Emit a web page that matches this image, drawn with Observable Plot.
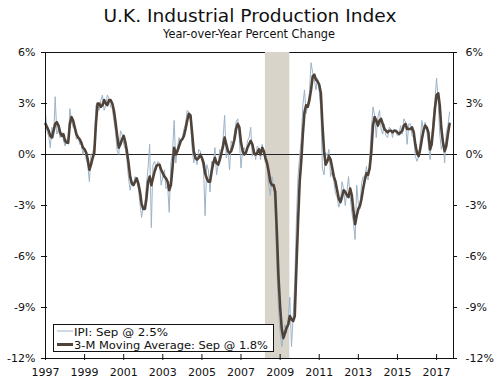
<!DOCTYPE html>
<html><head><meta charset="utf-8">
<script src="https://cdn.jsdelivr.net/npm/d3@7"></script>
<script src="https://cdn.jsdelivr.net/npm/@observablehq/plot@0.6"></script>
<style>
body{margin:0;background:#fff;font-family:"DejaVu Sans",sans-serif;}
#wrap{position:relative;width:500px;height:381px;overflow:hidden;background:#fff;}
#chart{position:absolute;top:42px;left:0;}
#overlay{position:absolute;top:0;left:0;pointer-events:none;}
</style></head><body>
<div id="wrap"><div id="chart"></div>
<svg id="overlay" width="500" height="381" font-family="DejaVu Sans, sans-serif" fill="#111">
  <text id="title" x="250" y="22" text-anchor="middle" font-size="18.5" textLength="293" lengthAdjust="spacingAndGlyphs">U.K. Industrial Production Index</text>
  <text id="subtitle" x="249" y="37.5" text-anchor="middle" font-size="11.5" textLength="172" lengthAdjust="spacingAndGlyphs">Year-over-Year Percent Change</text>
  <g id="legend"></g>
</svg>
</div>
<script>
const startYear = 1997;
const ipi = [
  2.4,1.3,1.1,0.4,1.6,1.0,3.4,1.2,1.5,1.0,1.3,0.9,
  0.5,0.9,0.6,2.7,2.0,1.6,1.5,0.9,1.1,0.6,0.6,0.0,
  0.4,-0.3,-0.6,-1.6,0.0,0.1,0.5,2.9,3.0,2.6,3.2,3.5,
  2.6,2.9,3.5,3.3,2.8,2.7,2.0,1.3,0.2,0.0,1.4,1.2,
  0.6,0.3,-0.3,-1.4,-2.1,-1.6,-1.8,-1.3,-1.6,-2.0,-2.9,-3.7,
  -3.1,-2.9,-1.8,-0.8,0.6,-4.3,-0.6,-0.4,-0.9,-0.4,-0.5,-1.8,
  -1.3,-0.9,-2.0,-1.8,-3.4,-0.5,0.1,2.0,-0.5,0.4,1.0,0.6,
  1.0,1.5,1.8,2.6,2.5,2.0,0.4,-0.5,0.0,-0.6,0.3,0.2,
  -0.4,-0.9,-3.6,-0.6,-0.9,-2.2,-0.4,-0.6,0.4,-1.2,-0.6,0.3,
  0.2,1.0,2.3,-0.2,0.4,-0.9,0.8,0.5,1.3,1.9,2.1,0.9,
  -0.8,0.3,0.4,0.0,0.8,1.0,1.6,-0.1,0.3,-0.3,0.5,0.4,
  -0.3,0.6,0.1,-0.5,-0.6,-1.8,-2.4,-1.3,-1.8,-3.5,-6.8,-9.2,
  -10.5,-11.3,-10.6,-10.0,-10.5,-9.6,-8.4,-11.3,-9.5,-7.5,-3.8,-1.3,
  -0.1,1.0,2.9,3.8,2.4,2.9,3.6,5.4,4.8,4.4,3.8,4.5,
  3.7,2.6,-0.8,-1.2,0.1,-0.1,0.3,-1.3,-1.0,-1.6,-2.3,-2.5,
  -3.1,-2.8,-1.6,-2.0,-3.0,-2.2,-1.3,-2.5,-3.4,-4.0,-5.0,-1.8,
  -2.9,-3.2,-1.7,-1.3,-1.4,-0.7,-1.5,-0.2,1.5,2.8,2.3,1.0,
  2.2,2.6,1.5,1.2,1.8,1.1,1.0,1.6,1.5,1.0,1.5,1.3,
  1.1,1.2,1.7,1.2,2.1,1.9,0.6,1.8,1.8,1.1,1.0,-0.1,
  -0.4,-0.1,0.8,2.0,1.4,1.9,1.4,0.6,-0.3,1.0,2.2,3.2,
  4.5,3.1,1.2,0.3,0.7,-0.5,1.3,1.7,2.5
];
const movingAvg = [
  1.8,1.6,1.4,1.1,1.0,1.4,1.8,1.9,1.7,1.3,1.1,1.2,
  0.8,0.7,0.7,1.8,2.2,2.0,1.6,1.2,1.0,0.9,0.7,0.4,
  0.3,0.1,-0.3,-0.9,-0.6,-0.2,0.1,1.8,3.0,3.0,2.8,2.9,
  3.2,3.0,2.9,3.2,3.2,3.0,2.6,1.9,1.1,0.4,0.6,0.9,
  1.1,0.7,0.2,-0.5,-1.3,-1.7,-1.8,-1.6,-1.4,-1.7,-2.2,-2.9,
  -3.2,-3.2,-2.6,-1.6,-1.3,-1.8,-1.4,-1.0,-0.7,-0.6,-0.6,-0.9,
  -1.1,-1.3,-1.4,-1.6,-2.1,-1.8,-0.8,0.4,0.0,0.2,0.5,0.8,
  0.9,1.1,1.5,2.0,2.4,2.3,1.3,0.2,-0.2,-0.3,-0.2,0.0,
  -0.2,-0.5,-1.1,-1.4,-1.6,-1.6,-1.0,-0.5,-0.2,-0.5,-0.6,-0.3,
  0.1,0.5,1.0,0.6,0.2,0.1,0.2,0.5,0.9,1.5,1.8,1.6,
  0.7,0.2,0.0,0.1,0.4,0.6,0.8,0.6,0.1,0.0,0.1,0.3,
  0.0,0.4,0.2,-0.2,-0.5,-1.0,-1.6,-1.8,-1.8,-2.2,-4.6,-7.2,
  -9.0,-10.3,-10.8,-10.5,-10.2,-10.0,-9.5,-9.7,-9.8,-9.5,-6.6,-4.0,
  -1.6,-0.3,1.2,2.5,2.9,2.8,3.2,3.8,4.6,4.7,4.4,4.3,
  4.1,3.6,1.8,0.2,-0.6,-0.4,-0.1,-0.3,-0.8,-1.3,-1.6,-2.1,
  -2.6,-2.8,-2.5,-2.1,-2.2,-2.4,-2.5,-2.0,-2.4,-3.3,-4.1,-3.6,
  -3.2,-3.0,-2.6,-2.0,-1.5,-1.1,-1.2,-0.8,0.2,1.7,2.2,2.0,
  1.7,2.0,2.1,1.8,1.5,1.4,1.3,1.4,1.4,1.3,1.4,1.4,
  1.3,1.2,1.3,1.4,1.7,1.8,1.5,1.5,1.5,1.6,1.3,0.6,
  0.1,-0.1,0.3,0.9,1.4,1.7,1.6,1.3,0.3,0.6,1.6,2.7,
  3.5,3.6,2.9,1.5,0.7,0.2,0.5,1.2,1.8
];
const xTickYears = [1997,1999,2001,2003,2005,2007,2009,2011,2013,2015,2017];
const yTicks = [-12,-9,-6,-3,0,3,6];
const recessions = [{start: [2008, 3], end: [2009, 6]}];
const legendLabels = ["IPI: Sep @ 2.5%", "3-M Moving Average: Sep @ 1.8%"];

const IPI_COLOR = "#9cb3c7", MA_COLOR = "#4e4239", SHADE = "#d9d4c9";
const utc = (y, m, d = 1) => new Date(Date.UTC(y, m, d));
const data = ipi.map((v, i) => ({date: utc(startYear, i), ipi: v, ma: movingAvg[i]}));
const rec = recessions.map(r => ({start: utc(...r.start), end: utc(...r.end)}));
const x0 = utc(1997, 0, 1), x1 = utc(2017, 10, 13);
const fmtPct = d => d + "%";

const chart = Plot.plot({
  width: 500, height: 339,
  marginLeft: 45, marginRight: 47, marginTop: 10, marginBottom: 23,
  style: {fontFamily: "DejaVu Sans, sans-serif", fontSize: "11px", color: "#111", background: "transparent"},
  x: {type: "utc", domain: [x0, x1]},
  y: {domain: [-12, 6]},
  marks: [
    Plot.ruleY([6], {stroke: "#111", strokeWidth: 1}),
    Plot.rect(rec, {x1: "start", x2: "end", fill: SHADE}),
    Plot.ruleY([0], {stroke: "#222", strokeWidth: 1}),
    Plot.line(data, {x: "date", y: "ipi", stroke: IPI_COLOR, strokeWidth: 1}),
    Plot.line(data, {x: "date", y: "ma", stroke: MA_COLOR, strokeWidth: 2.6}),
    Plot.ruleX([x0, x1], {stroke: "#111", strokeWidth: 1}),
    Plot.ruleY([-12], {stroke: "#111", strokeWidth: 1}),
    Plot.axisY(yTicks, {anchor: "left", tickFormat: fmtPct, tickSize: 6, dx: 2, tickPadding: 6, stroke: "#111"}),
    Plot.axisY(yTicks, {anchor: "right", tickFormat: fmtPct, tickSize: 4, dx: -1, tickPadding: 9, stroke: "#111"}),
    Plot.axisX(xTickYears.map(y => utc(y, 0, 1)), {anchor: "bottom", tickFormat: d => String(d.getUTCFullYear()), tickSize: 6, dy: -4, tickPadding: 8, stroke: "#111"})
  ]
});
document.getElementById("chart").appendChild(chart);

// legend box
const NS = "http://www.w3.org/2000/svg";
const lg = document.getElementById("legend");
function el(tag, attrs, text) {
  const e = document.createElementNS(NS, tag);
  for (const k in attrs) e.setAttribute(k, attrs[k]);
  if (text) e.textContent = text;
  lg.appendChild(e);
  return e;
}
el("rect", {x: 53.5, y: 324.5, width: 220, height: 27, fill: "#fff", stroke: "#111", "stroke-width": 1});
const rows = [
  {y: 331, color: IPI_COLOR, w: 1, len: 94},
  {y: 344.5, color: MA_COLOR, w: 3, len: 194}
];
rows.forEach((r, i) => {
  el("line", {x1: 57, x2: 73, y1: r.y, y2: r.y, stroke: r.color, "stroke-width": r.w});
  el("text", {x: 74, y: r.y + 4.5, "font-size": 11, textLength: r.len, lengthAdjust: "spacingAndGlyphs", fill: "#111"}, legendLabels[i]);
});
</script>
</body></html>
